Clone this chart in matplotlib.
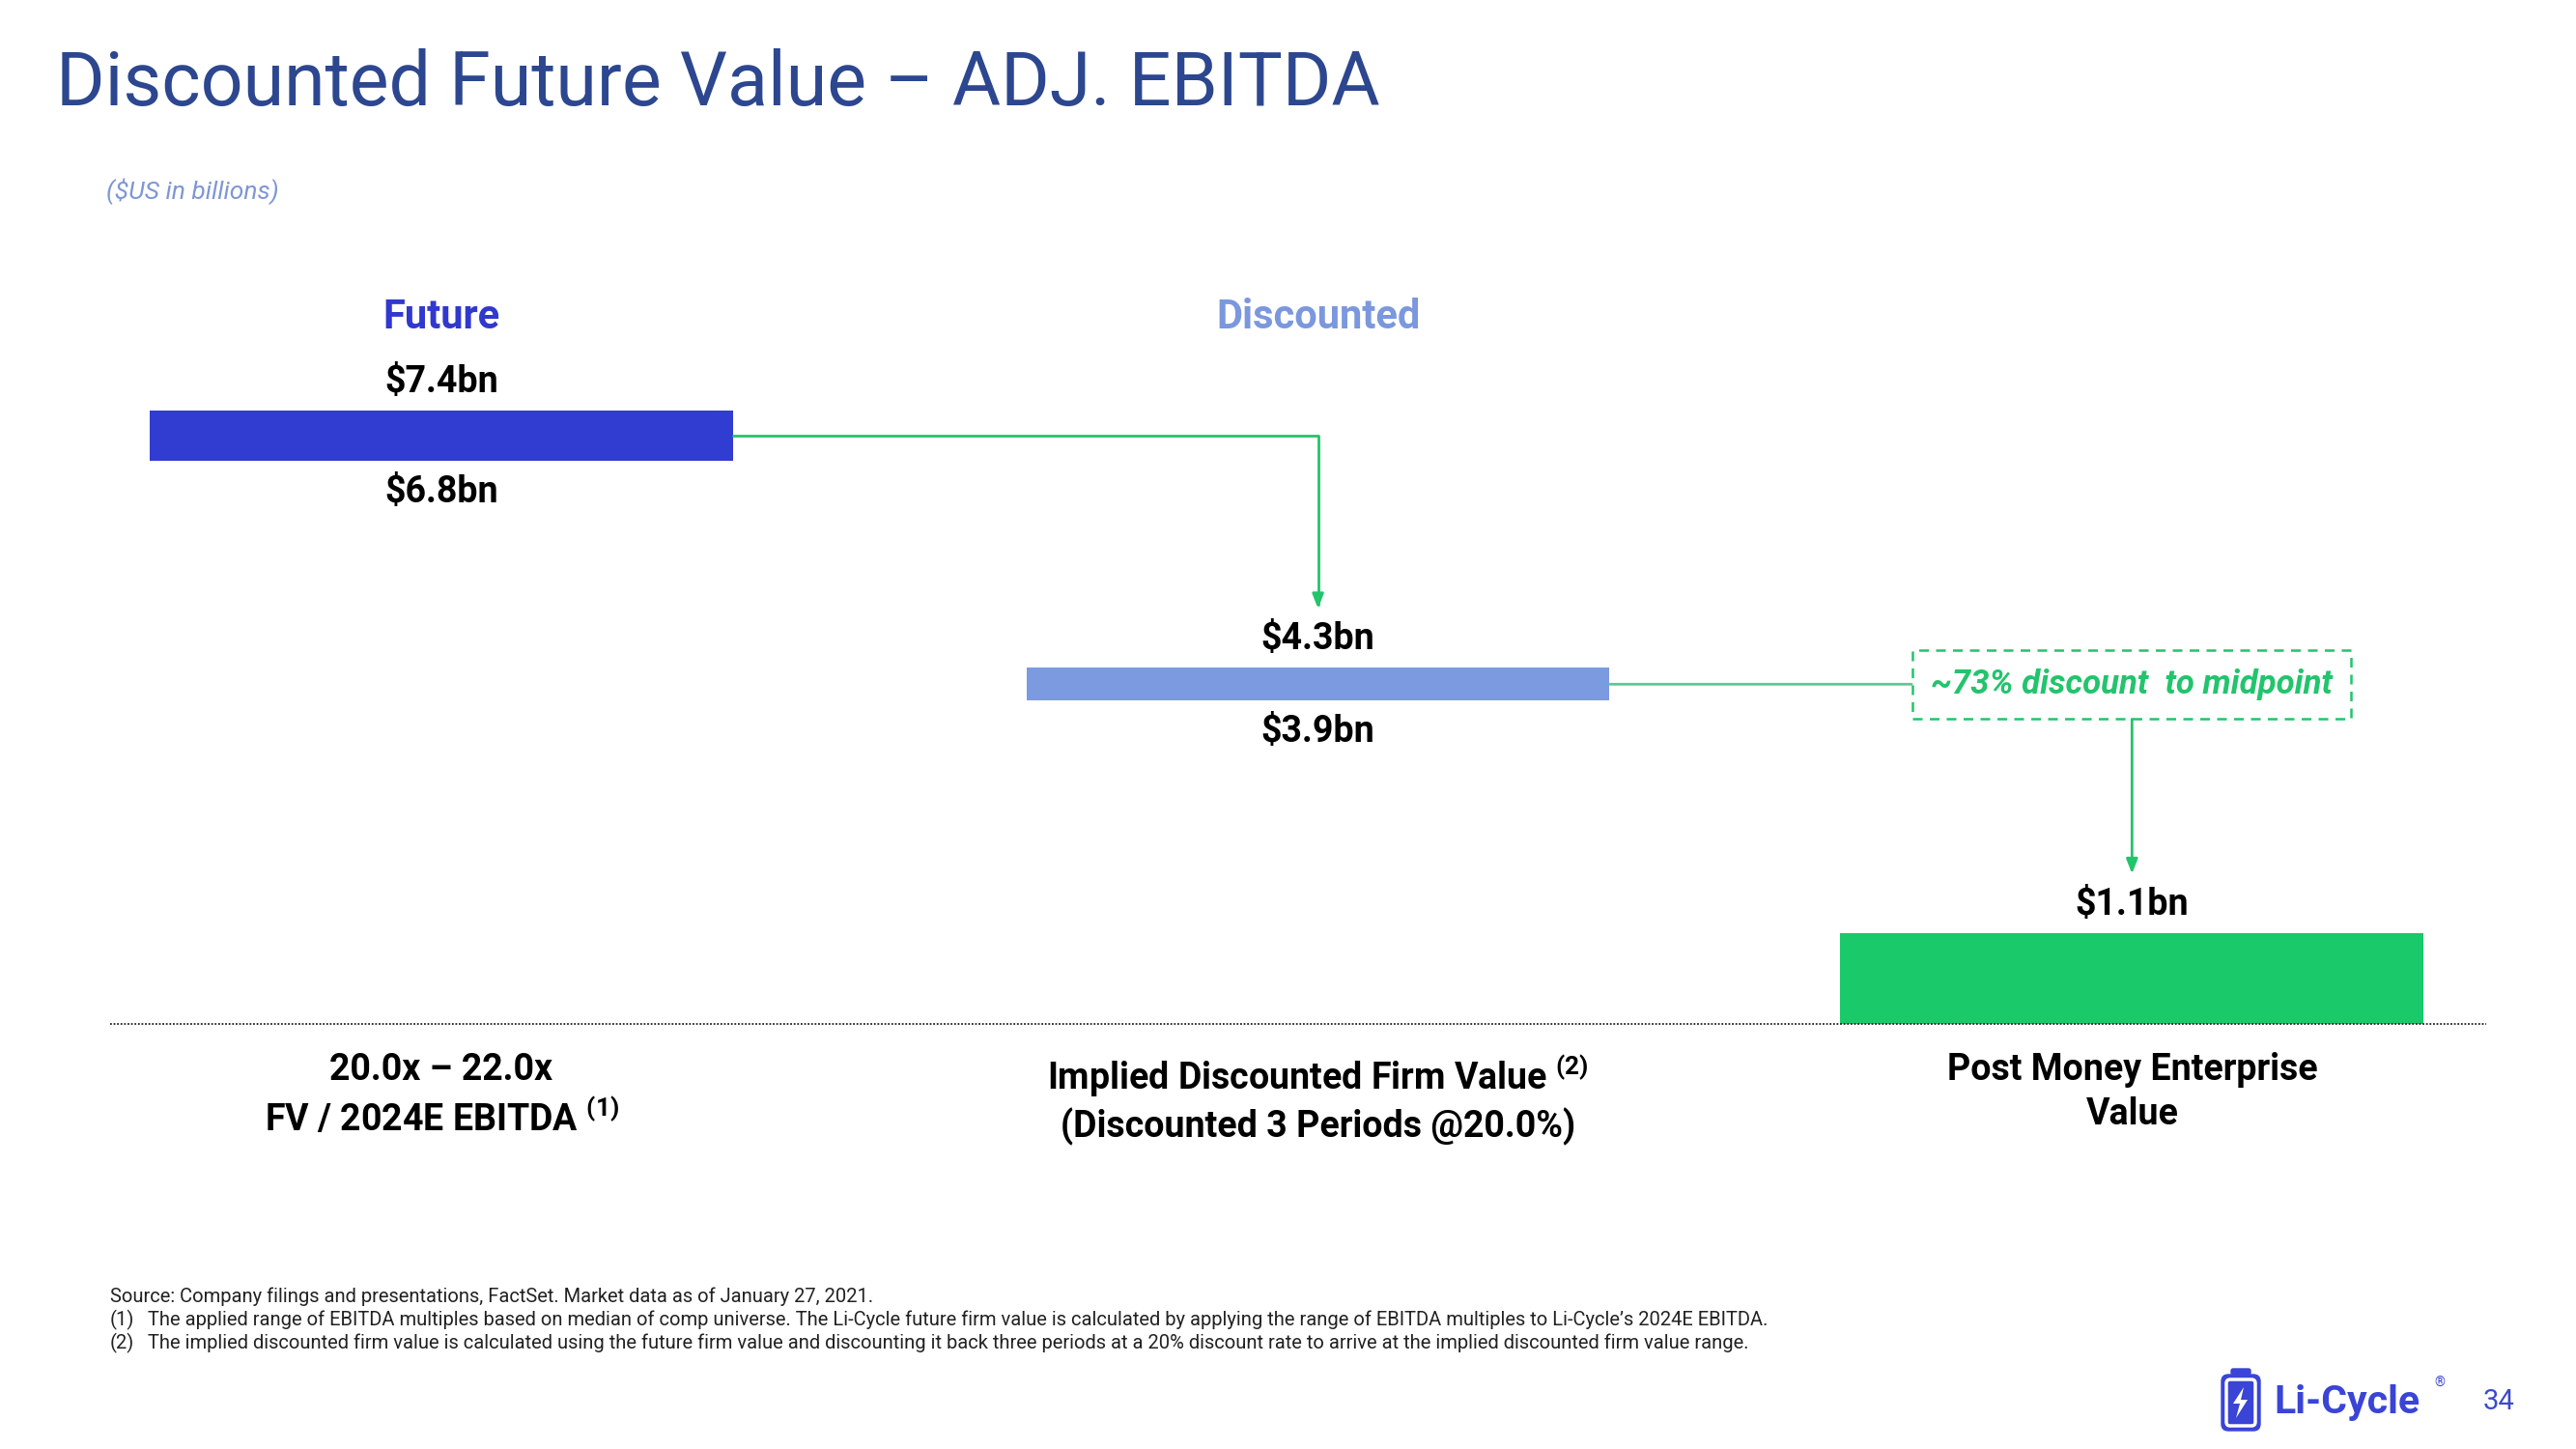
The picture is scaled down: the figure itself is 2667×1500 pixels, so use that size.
import matplotlib
matplotlib.use("Agg")
import matplotlib.pyplot as plt
from matplotlib.patches import FancyBboxPatch, Polygon

# ---------------- data ----------------
headers = ["Future", "Discounted"]
categories = [
    "20.0x \u2013 22.0x\nFV / 2024E EBITDA $^{\\mathrm{(1)}}$",
    "Implied Discounted Firm Value $^{\\mathrm{(2)}}$\n(Discounted 3 Periods @20.0%)",
    "Post Money Enterprise\nValue",
]
low_vals = [6.8, 3.9, None]      # range low ($bn); None = single value bar from 0
high_vals = [7.4, 4.3, 1.1]      # range high ($bn)
title = "Discounted Future Value \u2013 ADJ. EBITDA"
subtitle = "($US in billions)"
footnotes = [
    ("", "Source: Company filings and presentations, FactSet. Market data as of January 27, 2021."),
    ("(1)", "The applied range of EBITDA multiples based on median of comp universe. The Li-Cycle future firm value is calculated by applying the range of EBITDA multiples to Li-Cycle\u2019s 2024E EBITDA."),
    ("(2)", "The implied discounted firm value is calculated using the future firm value and discounting it back three periods at a 20% discount rate to arrive at the implied discounted firm value range."),
]
page_number = "34"

# ---------------- layout / style ----------------
x_pos = [0, 1.037, 2]            # column positions (layout)
bw = 0.69

FONT = ["Roboto", "DejaVu Sans"]
plt.rcParams["font.family"] = FONT
plt.rcParams["mathtext.fontset"] = "custom"
plt.rcParams["mathtext.rm"] = "Roboto:bold"
plt.rcParams["mathtext.bf"] = "Roboto:bold"

TITLE_C = "#2C478F"
SUB_C = "#7E96D6"
BAR_COLORS = ["#313CD1", "#7C9AE0", "#19C96A"]
HEADER_COLORS = ["#3038CF", "#7B98DE"]
GREEN = "#22C46C"
GREEN_LIGHT = "#5CC993"
LOGO_C = "#3A44D6"

fig = plt.figure(figsize=(26.67, 15), dpi=100)
W, H = 2667, 1500

fig.text(58 / W, 1 - 88 / H, title, fontsize=55.5, color=TITLE_C, va="center", ha="left")
fig.text(110 / W, 1 - 198 / H, subtitle, fontsize=19, color=SUB_C, style="italic",
         va="center", ha="left")

ax = fig.add_axes([114 / W, 1 - 1060 / H, 2460 / W, 760 / H])
ax.set_xlim(-0.392, 2.419)
ax.set_ylim(0, 8.86)
ax.axis("off")

bottoms = [lo if lo is not None else 0 for lo in low_vals]
heights = [hi - b for hi, b in zip(high_vals, bottoms)]
ax.bar(x_pos, heights, bottom=bottoms, width=bw, color=BAR_COLORS, zorder=2)

ax.axhline(0, color="#222222", lw=1.3, ls=(0, (1, 1)), clip_on=False, zorder=3)

# value labels
for xi, lo, hi in zip(x_pos, low_vals, high_vals):
    ax.annotate(f"\\${hi:.1f}bn", xy=(xi, hi), xytext=(0, 8), textcoords="offset points",
                ha="center", va="bottom", fontsize=27, fontweight="bold", color="black")
    if lo is not None:
        ax.annotate(f"\\${lo:.1f}bn", xy=(xi, lo), xytext=(0, -10), textcoords="offset points",
                    ha="center", va="top", fontsize=27, fontweight="bold", color="black")

# headers
xt = ax.get_xaxis_transform()
for xi, h, c in zip(x_pos, headers, HEADER_COLORS):
    ax.text(xi, 0.962, h, transform=xt, ha="center", va="center", fontsize=30,
            fontweight="bold", color=c)

# category labels
for xi, cat in zip(x_pos, categories):
    ax.annotate(cat, xy=(xi, 0), xytext=(0, -21), textcoords="offset points",
                ha="center", va="top", fontsize=27, fontweight="bold", color="black",
                linespacing=1.3, annotation_clip=False)

# connector 1: Future bar -> Discounted bar
mid1 = (low_vals[0] + high_vals[0]) / 2
ax.annotate("", xy=(x_pos[1], high_vals[1]), xytext=(x_pos[0] + bw / 2, mid1),
            arrowprops=dict(arrowstyle="-|>,head_length=0.9,head_width=0.35", color=GREEN, lw=2,
                            shrinkA=0, shrinkB=44,
                            connectionstyle="angle,angleA=0,angleB=90,rad=0"))

# connector 2: Discounted bar -> box -> post-money bar
mid2 = (low_vals[1] + high_vals[1]) / 2
discount = 1 - high_vals[2] / mid2
box_text = f"~{discount * 100:.0f}% discount  to midpoint"
ax.annotate(box_text, xy=(x_pos[1] + bw / 2, mid2), xytext=(x_pos[2], mid2),
            ha="center", va="center", fontsize=25, fontweight="bold", style="italic",
            color=GREEN,
            bbox=dict(boxstyle="square,pad=0.55", fc="white", ec=GREEN, ls=(0, (4, 3)), lw=1.8),
            arrowprops=dict(arrowstyle="-", color=GREEN_LIGHT, lw=2, shrinkA=0, shrinkB=0))
ax.annotate("", xy=(x_pos[2], high_vals[2]), xytext=(x_pos[2], mid2),
            arrowprops=dict(arrowstyle="-|>,head_length=0.9,head_width=0.35", color=GREEN, lw=2,
                            shrinkA=26, shrinkB=44))

# footnotes
for i, (num, txt) in enumerate(footnotes):
    y = 1 - (1342 + 24 * i) / H
    if num:
        fig.text(114 / W, y, num, fontsize=14.5, color="#222222", va="center", ha="left")
        fig.text(153 / W, y, txt, fontsize=14.5, color="#222222", va="center", ha="left")
    else:
        fig.text(114 / W, y, txt, fontsize=14.5, color="#222222", va="center", ha="left")

# logo
lax = fig.add_axes([2296 / W, 1 - 1484 / H, 52 / W, 72 / H])
lax.set_xlim(0, 52)
lax.set_ylim(0, 72)
lax.axis("off")
lax.add_patch(FancyBboxPatch((4, 3), 40, 58, boxstyle="round,pad=0,rounding_size=7",
                             fc=LOGO_C, ec=LOGO_C, lw=1))
lax.add_patch(FancyBboxPatch((14, 61), 20, 6, boxstyle="round,pad=0,rounding_size=2",
                             fc=LOGO_C, ec=LOGO_C, lw=1))
lax.add_patch(FancyBboxPatch((9, 8), 30, 48, boxstyle="round,pad=0,rounding_size=4",
                             fc=LOGO_C, ec="white", lw=2.5))
lax.add_patch(Polygon([[27, 48], [16, 31], [23, 31], [19, 16], [31, 35], [24, 35]],
                      closed=True, fc="white", ec="none"))
fig.text(2354 / W, 1 - 1452 / H, "Li-Cycle", fontsize=29.5, fontweight="bold", color=LOGO_C,
         va="center", ha="left")
fig.text(2520 / W, 1 - 1432 / H, "\u00ae", fontsize=10, color=LOGO_C, va="center", ha="left")
fig.text(2587 / W, 1 - 1451 / H, page_number, fontsize=21, color="#3B4BC8",
         va="center", ha="center")

fig.savefig("out.png", dpi=100, facecolor="white")
